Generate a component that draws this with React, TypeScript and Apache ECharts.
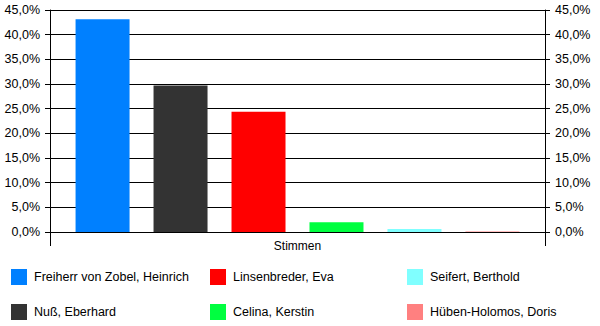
import React, { useEffect, useRef } from "react";
import * as echarts from "echarts";

const categories = ["Stimmen"];
const candidates = [
  "Freiherr von Zobel, Heinrich",
  "Nuß, Eberhard",
  "Linsenbreder, Eva",
  "Celina, Kerstin",
  "Seifert, Berthold",
  "Hüben-Holomos, Doris",
];
const shares = [43.1, 29.7, 24.4, 2.0, 0.6, 0.1];
const colors = ["#0080ff", "#333333", "#ff0000", "#00ff40", "#80ffff", "#ff8080"];
const legendColumns = [
  [candidates[0], candidates[1]],
  [candidates[2], candidates[3]],
  [candidates[4], candidates[5]],
];
const yMin = 0;
const yMax = 45;
const yStep = 5;

const FONT = "'Liberation Sans', Arial, sans-serif";
const fmt = (v: number) => v.toFixed(1).replace(".", ",") + "%";

export default function App() {
  const ref = useRef<HTMLDivElement>(null);
  useEffect(() => {
    if (!ref.current) return;
    const chart = echarts.init(ref.current, null, { renderer: "svg" });
    const legendLeft = [11, 210, 407];
    const valueAxis = (pos: "left" | "right", grid: boolean) => ({
      type: "value",
      position: pos,
      min: yMin,
      max: yMax,
      interval: yStep,
      axisLine: { show: true, lineStyle: { color: "#000", width: 1 } },
      axisTick: { show: true, length: 5, lineStyle: { color: "#000" } },
      axisLabel: {
        margin: 10,
        color: "#000",
        fontFamily: FONT,
        fontSize: 12.5,
        formatter: fmt,
      },
      splitLine: { show: grid, lineStyle: { color: "#000", width: 1 } },
    });
    chart.setOption({
      animation: false,
      backgroundColor: "#fff",
      textStyle: { fontFamily: FONT },
      grid: { left: 50, right: 55, top: 10, bottom: 94, containLabel: false },
      xAxis: {
        type: "category",
        data: categories,
        axisLine: { show: true, lineStyle: { color: "#000", width: 1 } },
        axisTick: { show: true, length: 14, interval: 0, lineStyle: { color: "#000" } },
        axisLabel: { margin: 8, color: "#000", fontFamily: FONT, fontSize: 12 },
      },
      yAxis: [valueAxis("left", true), valueAxis("right", false)],
      legend: legendColumns.map((names, i) => ({
        orient: "vertical",
        left: legendLeft[i],
        top: 269,
        itemWidth: 16,
        itemHeight: 16,
        itemGap: 19,
        padding: 0,
        icon: "rect",
        data: names,
        selectedMode: false,
        textStyle: {
          color: "#000",
          fontFamily: FONT,
          fontSize: 12.5,
          padding: [0, 0, 0, 2],
        },
      })),
      series: candidates.map((name, i) => ({
        type: "bar",
        name,
        yAxisIndex: 0,
        barWidth: 54,
        barGap: "44.4%",
        itemStyle: { color: colors[i] },
        data: [shares[i]],
      })),
    });
    return () => chart.dispose();
  }, []);
  return (
    <div
      ref={ref}
      style={{ position: "absolute", left: 0, top: 0, width: 600, height: 326 }}
    />
  );
}
